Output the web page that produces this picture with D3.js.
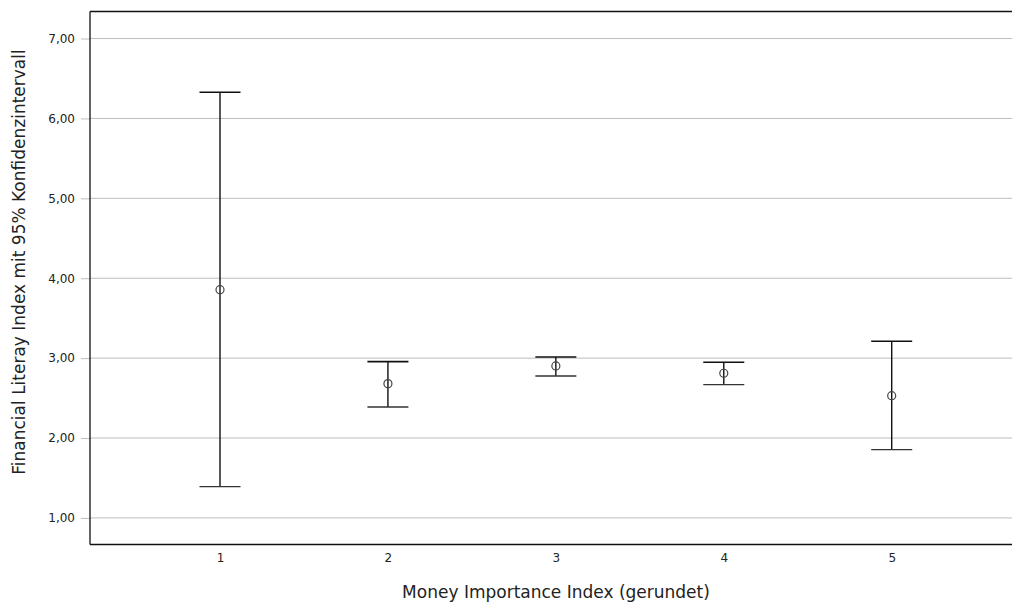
<!DOCTYPE html>
<html><head><meta charset="utf-8">
<script src="https://cdn.jsdelivr.net/npm/d3@7"></script>
<style>body{margin:0;background:#fff;} svg{display:block;font-family:"DejaVu Sans",sans-serif;}</style>
</head><body>
<script>
const categories = ["1","2","3","4","5"];
const means = [3.857, 2.681, 2.902, 2.811, 2.530];
const upper = [6.327, 2.956, 3.015, 2.949, 3.211];
const lower = [1.392, 2.389, 2.777, 2.668, 1.855];
const yTicks = [1,2,3,4,5,6,7];
const xTitle = "Money Importance Index (gerundet)";
const yTitle = "Financial Literay Index mit 95% Konfidenzintervall";

(function(){
const W = 1012, H = 603;
const pLeft = 90, pTop = 11.5, pBottom = 544.5, pRight = 1013;
const svg = d3.select("body").append("svg").attr("width", W).attr("height", H);

const y = d3.scaleLinear().domain([0.6675, 7.3385]).range([pBottom, pTop]);
const x = d3.scalePoint().domain(categories).range([220, 891.7]);

// gridlines
svg.append("g").selectAll("line").data(yTicks).join("line")
  .attr("x1", pLeft).attr("x2", pRight)
  .attr("y1", d => y(d)).attr("y2", d => y(d))
  .attr("stroke", "#bdbdbd").attr("stroke-width", 1);

// y axis
const yAxis = d3.axisLeft(y).tickValues(yTicks).tickSize(9).tickPadding(6)
  .tickFormat(d => d3.format(".2f")(d).replace(".", ","));
const gy = svg.append("g").attr("transform", `translate(${pLeft},0)`).call(yAxis);
gy.select(".domain").remove();
gy.selectAll(".tick line").attr("stroke", "#bdbdbd");
gy.selectAll(".tick text").attr("font-size", 12).attr("fill", "#222").attr("font-family", "DejaVu Sans, sans-serif");

// x axis
const xAxis = d3.axisBottom(x).tickSize(0).tickPadding(9);
const gx = svg.append("g").attr("transform", `translate(0,${pBottom})`).call(xAxis);
gx.select(".domain").remove();
gx.selectAll(".tick text").attr("font-size", 12).attr("fill", "#222").attr("font-family", "DejaVu Sans, sans-serif");

// frame
svg.append("line").attr("x1", pLeft).attr("x2", pRight).attr("y1", pTop).attr("y2", pTop).attr("stroke", "#111").attr("stroke-width", 1.3);
svg.append("line").attr("x1", pLeft).attr("x2", pRight).attr("y1", pBottom).attr("y2", pBottom).attr("stroke", "#111").attr("stroke-width", 1.3);
svg.append("line").attr("x1", pLeft).attr("x2", pLeft).attr("y1", pTop).attr("y2", pBottom).attr("stroke", "#111").attr("stroke-width", 1.3);

const data = categories.map((c, i) => ({c, m: means[i], u: upper[i], l: lower[i]}));
const g = svg.append("g");
const cap = 20.5;
g.selectAll(".v").data(data).join("line").attr("class", "v")
  .attr("x1", d => x(d.c)).attr("x2", d => x(d.c))
  .attr("y1", d => y(d.u)).attr("y2", d => y(d.l))
  .attr("stroke", "#111").attr("stroke-width", 1.4);
g.selectAll(".u").data(data).join("line").attr("class", "u")
  .attr("x1", d => x(d.c) - cap).attr("x2", d => x(d.c) + cap)
  .attr("y1", d => y(d.u)).attr("y2", d => y(d.u))
  .attr("stroke", "#111").attr("stroke-width", 1.6);
g.selectAll(".l").data(data).join("line").attr("class", "l")
  .attr("x1", d => x(d.c) - cap).attr("x2", d => x(d.c) + cap)
  .attr("y1", d => y(d.l)).attr("y2", d => y(d.l))
  .attr("stroke", "#333").attr("stroke-width", 1.4);
g.selectAll("circle").data(data).join("circle")
  .attr("cx", d => x(d.c)).attr("cy", d => y(d.m)).attr("r", 4)
  .attr("fill", "none").attr("stroke", "#444").attr("stroke-width", 1.2);

// titles
svg.append("text").attr("x", 556).attr("y", 598).attr("text-anchor", "middle")
  .attr("font-size", 17).attr("fill", "#222").attr("font-family", "DejaVu Sans, sans-serif").text(xTitle);
svg.append("text").attr("transform", "translate(25,262) rotate(-90)").attr("text-anchor", "middle")
  .attr("font-size", 17).attr("fill", "#222").attr("font-family", "DejaVu Sans, sans-serif").text(yTitle);
})();
</script>
</body></html>
